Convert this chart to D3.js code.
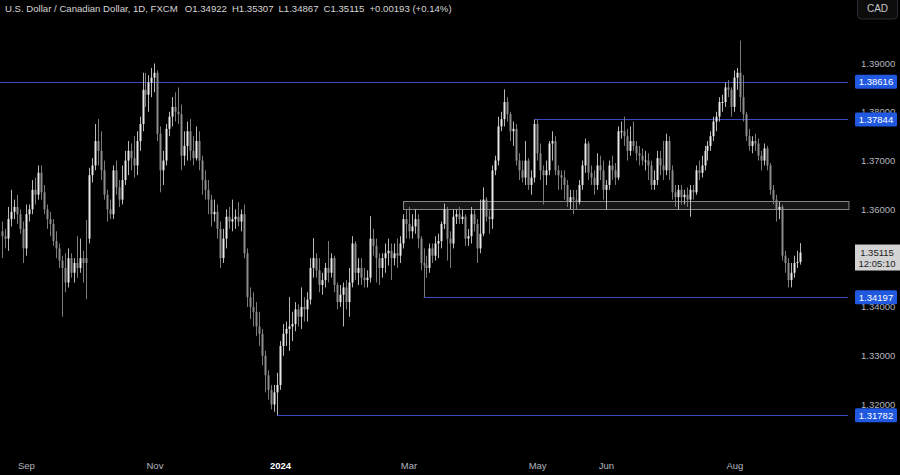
<!DOCTYPE html>
<html><head><meta charset="utf-8">
<script src="https://cdn.jsdelivr.net/npm/d3@7"></script>
<style>html,body{margin:0;padding:0;background:#000;overflow:hidden}</style>
</head><body>
<svg id="c" width="900" height="475"></svg>
<script>
// ---- daily candles [open, high, low, close] grouped by month ----
const aug23 = [
[1.3555,1.3575,1.3500,1.3545],[1.3545,1.3560,1.3520,1.3540],[1.3540,1.3605,1.3515,1.3580],[1.3580,1.3640,1.3565,1.3595],
[1.3595,1.3620,1.3580,1.3605],[1.3605,1.3630,1.3570,1.3590],[1.3590,1.3600,1.3550,1.3560],[1.3560,1.3575,1.3490,1.3520]];
const sep23 = [
[1.3520,1.3610,1.3505,1.3590],[1.3590,1.3610,1.3575,1.3600],[1.3600,1.3660,1.3590,1.3640],[1.3640,1.3665,1.3610,1.3630],
[1.3630,1.3690,1.3620,1.3675],[1.3675,1.3690,1.3620,1.3635],[1.3635,1.3650,1.3590,1.3600],[1.3600,1.3610,1.3560,1.3580],
[1.3580,1.3595,1.3545,1.3570],[1.3570,1.3580,1.3525,1.3535],[1.3535,1.3555,1.3500,1.3520],[1.3520,1.3530,1.3480,1.3495],
[1.3495,1.3505,1.3380,1.3480],[1.3480,1.3510,1.3430,1.3450],[1.3450,1.3520,1.3440,1.3500],[1.3500,1.3510,1.3460,1.3470],
[1.3470,1.3500,1.3450,1.3490],[1.3490,1.3545,1.3460,1.3480],[1.3480,1.3540,1.3470,1.3500],[1.3500,1.3515,1.3450,1.3490],
[1.3500,1.3578,1.3416,1.3490]];
const oct23 = [
[1.3540,1.3685,1.3530,1.3670],[1.3670,1.3705,1.3655,1.3690],[1.3690,1.3775,1.3680,1.3740],[1.3740,1.3785,1.3690,1.3720],
[1.3720,1.3760,1.3660,1.3680],[1.3680,1.3700,1.3620,1.3630],[1.3630,1.3640,1.3575,1.3600],[1.3600,1.3620,1.3580,1.3590],
[1.3590,1.3690,1.3580,1.3680],[1.3680,1.3700,1.3630,1.3645],[1.3645,1.3660,1.3605,1.3620],[1.3620,1.3690,1.3610,1.3660],
[1.3660,1.3720,1.3650,1.3700],[1.3700,1.3740,1.3670,1.3720],[1.3720,1.3735,1.3680,1.3705],[1.3705,1.3750,1.3665,1.3690],
[1.3690,1.3760,1.3670,1.3740],[1.3740,1.3790,1.3720,1.3775],[1.3775,1.3880,1.3760,1.3845],[1.3845,1.3880,1.3810,1.3835],
[1.3835,1.3875,1.3800,1.3860],[1.3860,1.3890,1.3830,1.3870]];
const nov23 = [
[1.3870,1.3899,1.3840,1.3880],[1.3880,1.3885,1.3740,1.3755],[1.3755,1.3770,1.3635,1.3680],[1.3680,1.3720,1.3650,1.3700],
[1.3700,1.3775,1.3690,1.3765],[1.3765,1.3800,1.3750,1.3790],[1.3790,1.3830,1.3770,1.3810],[1.3810,1.3840,1.3780,1.3800],
[1.3800,1.3850,1.3775,1.3795],[1.3795,1.3815,1.3680,1.3710],[1.3710,1.3760,1.3690,1.3730],[1.3730,1.3780,1.3700,1.3760],
[1.3760,1.3785,1.3700,1.3720],[1.3720,1.3750,1.3690,1.3705],[1.3705,1.3770,1.3700,1.3740],[1.3740,1.3760,1.3680,1.3700],
[1.3700,1.3710,1.3630,1.3660],[1.3660,1.3680,1.3620,1.3640],[1.3640,1.3660,1.3590,1.3620],[1.3620,1.3630,1.3565,1.3590],
[1.3590,1.3620,1.3575,1.3595],[1.3595,1.3610,1.3540,1.3560]];
const dec23 = [
[1.3560,1.3575,1.3480,1.3500],[1.3500,1.3560,1.3490,1.3540],[1.3540,1.3600,1.3520,1.3585],[1.3585,1.3605,1.3560,1.3575],
[1.3575,1.3620,1.3555,1.3580],[1.3580,1.3600,1.3560,1.3585],[1.3585,1.3615,1.3565,1.3575],[1.3575,1.3600,1.3555,1.3590],
[1.3590,1.3610,1.3500,1.3510],[1.3510,1.3520,1.3400,1.3420],[1.3420,1.3440,1.3375,1.3400],[1.3400,1.3430,1.3360,1.3390],
[1.3390,1.3410,1.3340,1.3360],[1.3360,1.3390,1.3320,1.3345],[1.3345,1.3355,1.3280,1.3300],[1.3300,1.3310,1.3225,1.3260],
[1.3260,1.3270,1.3210,1.3230],[1.3230,1.3240,1.3190,1.3200],[1.3200,1.3240,1.3185,1.3225],[1.3225,1.3265,1.3178,1.3240]];
const jan24 = [
[1.3240,1.3330,1.3230,1.3320],[1.3320,1.3365,1.3300,1.3345],[1.3345,1.3370,1.3320,1.3355],[1.3355,1.3420,1.3310,1.3360],
[1.3360,1.3390,1.3330,1.3365],[1.3365,1.3410,1.3350,1.3395],[1.3395,1.3405,1.3360,1.3380],[1.3380,1.3440,1.3355,1.3400],
[1.3400,1.3420,1.3370,1.3395],[1.3395,1.3430,1.3370,1.3415],[1.3415,1.3500,1.3405,1.3480],[1.3480,1.3541,1.3460,1.3500],
[1.3500,1.3510,1.3460,1.3475],[1.3475,1.3500,1.3430,1.3445],[1.3445,1.3470,1.3425,1.3455],[1.3455,1.3490,1.3440,1.3480],
[1.3480,1.3535,1.3450,1.3470],[1.3470,1.3510,1.3460,1.3500],[1.3500,1.3505,1.3430,1.3445],[1.3445,1.3450,1.3395,1.3410],
[1.3410,1.3445,1.3400,1.3425],[1.3425,1.3450,1.3360,1.3440]];
const feb24 = [
[1.3440,1.3455,1.3395,1.3410],[1.3410,1.3480,1.3380,1.3450],[1.3450,1.3545,1.3440,1.3530],[1.3530,1.3535,1.3455,1.3470],
[1.3470,1.3500,1.3445,1.3480],[1.3480,1.3500,1.3445,1.3460],[1.3460,1.3480,1.3440,1.3455],[1.3455,1.3475,1.3440,1.3460],
[1.3460,1.3586,1.3450,1.3540],[1.3540,1.3560,1.3505,1.3525],[1.3525,1.3540,1.3450,1.3500],[1.3500,1.3510,1.3445,1.3480],
[1.3480,1.3510,1.3460,1.3500],[1.3500,1.3530,1.3470,1.3510],[1.3510,1.3540,1.3485,1.3515],[1.3515,1.3530,1.3455,1.3500],
[1.3500,1.3530,1.3485,1.3510],[1.3510,1.3540,1.3480,1.3505],[1.3505,1.3545,1.3490,1.3530],[1.3530,1.3590,1.3520,1.3580],
[1.3580,1.3600,1.3540,1.3570]];
const mar24 = [
[1.3570,1.3605,1.3540,1.3555],[1.3555,1.3590,1.3540,1.3565],[1.3565,1.3600,1.3550,1.3580],[1.3580,1.3590,1.3520,1.3540],
[1.3540,1.3545,1.3475,1.3490],[1.3490,1.3520,1.3420,1.3485],[1.3485,1.3505,1.3460,1.3480],[1.3480,1.3530,1.3470,1.3520],
[1.3520,1.3530,1.3490,1.3505],[1.3505,1.3545,1.3495,1.3530],[1.3530,1.3550,1.3500,1.3535],[1.3535,1.3575,1.3520,1.3570],
[1.3570,1.3612,1.3560,1.3600],[1.3600,1.3605,1.3495,1.3540],[1.3540,1.3555,1.3480,1.3530],[1.3530,1.3600,1.3520,1.3585],
[1.3585,1.3600,1.3570,1.3590],[1.3590,1.3605,1.3570,1.3580],[1.3580,1.3600,1.3570,1.3585],[1.3585,1.3590,1.3525,1.3540],
[1.3540,1.3560,1.3525,1.3545]];
const apr24 = [
[1.3545,1.3605,1.3530,1.3590],[1.3590,1.3600,1.3555,1.3570],[1.3570,1.3580,1.3490,1.3520],[1.3520,1.3620,1.3510,1.3550],
[1.3550,1.3645,1.3545,1.3620],[1.3620,1.3625,1.3575,1.3585],[1.3585,1.3600,1.3550,1.3580],[1.3580,1.3690,1.3560,1.3680],
[1.3680,1.3710,1.3670,1.3700],[1.3700,1.3790,1.3690,1.3770],[1.3770,1.3800,1.3760,1.3785],[1.3785,1.3846,1.3770,1.3820],
[1.3820,1.3830,1.3780,1.3795],[1.3795,1.3800,1.3740,1.3760],[1.3760,1.3780,1.3730,1.3765],[1.3765,1.3775,1.3690,1.3700],
[1.3700,1.3715,1.3660,1.3680],[1.3680,1.3700,1.3655,1.3665],[1.3665,1.3740,1.3650,1.3700],[1.3700,1.3705,1.3640,1.3650],
[1.3650,1.3680,1.3630,1.3665],[1.3665,1.3784,1.3655,1.3775]];
const may24 = [
[1.3775,1.3785,1.3700,1.3715],[1.3715,1.3735,1.3660,1.3680],[1.3680,1.3690,1.3610,1.3670],[1.3670,1.3700,1.3650,1.3680],
[1.3680,1.3740,1.3670,1.3735],[1.3735,1.3760,1.3700,1.3740],[1.3740,1.3750,1.3670,1.3680],[1.3680,1.3690,1.3640,1.3670],
[1.3670,1.3680,1.3640,1.3665],[1.3665,1.3680,1.3620,1.3650],[1.3650,1.3660,1.3605,1.3615],[1.3615,1.3640,1.3600,1.3625],
[1.3625,1.3640,1.3590,1.3620],[1.3620,1.3640,1.3600,1.3615],[1.3615,1.3660,1.3610,1.3650],[1.3650,1.3700,1.3640,1.3690],
[1.3690,1.3745,1.3675,1.3735],[1.3735,1.3740,1.3660,1.3675],[1.3675,1.3690,1.3650,1.3665],[1.3665,1.3680,1.3630,1.3650],
[1.3650,1.3715,1.3640,1.3690],[1.3690,1.3710,1.3660,1.3680],[1.3680,1.3700,1.3620,1.3640]];
const jun24 = [
[1.3640,1.3660,1.3600,1.3650],[1.3650,1.3700,1.3640,1.3690],[1.3690,1.3710,1.3660,1.3680],[1.3680,1.3695,1.3650,1.3665],
[1.3665,1.3770,1.3660,1.3760],[1.3760,1.3780,1.3745,1.3760],[1.3760,1.3790,1.3730,1.3750],[1.3750,1.3765,1.3700,1.3720],
[1.3720,1.3770,1.3710,1.3740],[1.3740,1.3780,1.3720,1.3730],[1.3730,1.3740,1.3700,1.3715],[1.3715,1.3730,1.3690,1.3710],
[1.3710,1.3725,1.3690,1.3700],[1.3700,1.3720,1.3680,1.3700],[1.3700,1.3715,1.3660,1.3690],[1.3690,1.3700,1.3640,1.3650],
[1.3650,1.3680,1.3640,1.3660],[1.3660,1.3720,1.3650,1.3705],[1.3705,1.3720,1.3670,1.3690],[1.3690,1.3740,1.3660,1.3680]];
const jul24 = [
[1.3680,1.3755,1.3670,1.3740],[1.3740,1.3750,1.3660,1.3680],[1.3680,1.3690,1.3620,1.3635],[1.3635,1.3650,1.3605,1.3625],
[1.3625,1.3650,1.3600,1.3640],[1.3640,1.3650,1.3610,1.3625],[1.3625,1.3640,1.3610,1.3630],[1.3630,1.3645,1.3605,1.3620],
[1.3620,1.3650,1.3585,1.3640],[1.3640,1.3650,1.3620,1.3635],[1.3635,1.3690,1.3630,1.3680],[1.3680,1.3700,1.3660,1.3675],
[1.3675,1.3710,1.3665,1.3690],[1.3690,1.3730,1.3680,1.3720],[1.3720,1.3740,1.3700,1.3730],[1.3730,1.3760,1.3720,1.3750],
[1.3750,1.3790,1.3740,1.3780],[1.3780,1.3800,1.3760,1.3790],[1.3790,1.3830,1.3780,1.3820],[1.3820,1.3835,1.3800,1.3820],
[1.3820,1.3860,1.3810,1.3850],[1.3850,1.3865,1.3830,1.3845],[1.3845,1.3850,1.3790,1.3810]];
const aug24 = [
[1.3810,1.3885,1.3800,1.3870],[1.3870,1.3890,1.3845,1.3880],[1.3880,1.3946,1.3800,1.3830],[1.3830,1.3875,1.3780,1.3795],
[1.3795,1.3800,1.3740,1.3750],[1.3750,1.3765,1.3720,1.3730],[1.3730,1.3750,1.3715,1.3740],[1.3740,1.3755,1.3720,1.3735],
[1.3735,1.3745,1.3700,1.3710],[1.3710,1.3720,1.3680,1.3700],[1.3700,1.3735,1.3690,1.3725],[1.3725,1.3730,1.3680,1.3690],
[1.3690,1.3695,1.3630,1.3640],[1.3640,1.3650,1.3610,1.3620],[1.3620,1.3630,1.3575,1.3600],[1.3600,1.3615,1.3580,1.3605],
[1.3605,1.3610,1.3495,1.3505],[1.3505,1.3515,1.3470,1.3490],[1.3490,1.3500,1.3440,1.3455],[1.3455,1.3490,1.3440,1.3470],
[1.3470,1.3505,1.3460,1.3490],[1.3490,1.3515,1.3480,1.34922]];
const sep24 = [[1.34922,1.35307,1.34867,1.35115]];

const monthBlocks = [aug23, sep23, oct23, nov23, dec23, jan24, feb24, mar24, apr24, may24, jun24, jul24, aug24, sep24];
const monthLabels = [null, "Sep", null, "Nov", null, "2024", null, "Mar", null, "May", "Jun", null, "Aug", null];
const boldLabels = ["2024"];

// 1.35000 is hidden behind the last-price label in the reference
const priceTicks = [1.39, 1.38, 1.37, 1.36, 1.34, 1.33, 1.32];
// horizontal levels: value, index of the candle where the line starts
const levelValues = [1.38616, 1.37844, 1.34197, 1.31782];
const levelStarts = [0, 178, 141, 92];
// grey zone
const zoneLow = 1.3600, zoneHigh = 1.3617, zoneStart = 134;

const title = "U.S. Dollar / Canadian Dollar, 1D, FXCM";
const countdown = "12:05:10";
const currency = "CAD";

// ---- build ----
const candles = monthBlocks.flat().map((r, i) => ({i, o: r[0], h: r[1], l: r[2], c: r[3]}));
const tickIdx = [], tickTxt = [];
let acc = 0;
monthBlocks.forEach((b, k) => { if (monthLabels[k]) { tickIdx.push(acc); tickTxt.push(monthLabels[k]); } acc += b.length; });

const W = 900, H = 475, plotR = 848;
const FONT = "Liberation Sans, Arial, sans-serif";
const svg = d3.select("#c");
svg.append("rect").attr("width", W).attr("height", H).attr("fill", "#000");

const x = d3.scaleLinear().domain([-0.67, 283]).range([0, plotR]);
const y = d3.scaleLinear().domain([1.39, 1.32]).range([63, 404.5]);
const bw = 2;

// zone
svg.append("rect")
  .attr("x", Math.round(x(zoneStart)) + 0.5).attr("width", plotR - x(zoneStart))
  .attr("y", Math.round(y(zoneHigh)) + 0.5).attr("height", Math.round(y(zoneLow) - y(zoneHigh)))
  .attr("fill", "#161616").attr("stroke", "#858585").attr("stroke-width", 1);

// levels
svg.selectAll("line.lvl").data(levelValues).join("line").attr("class", "lvl")
  .attr("x1", (d, k) => k === 0 ? 0 : x(levelStarts[k])).attr("x2", plotR)
  .attr("y1", d => Math.round(y(d)) + 0.5).attr("y2", d => Math.round(y(d)) + 0.5)
  .attr("stroke", "#3c48c4").attr("stroke-width", 1.2);

// candles
const g = svg.append("g");
g.selectAll("line.wick").data(candles).join("line").attr("class", "wick")
  .attr("x1", d => Math.round(x(d.i)) + 0.5).attr("x2", d => Math.round(x(d.i)) + 0.5)
  .attr("y1", d => y(d.h)).attr("y2", d => y(d.l))
  .attr("stroke", d => d.c >= d.o ? "#b8b8b8" : "#7a7a7a").attr("stroke-width", 1);
g.selectAll("rect.body").data(candles).join("rect").attr("class", "body")
  .attr("x", d => Math.round(x(d.i)) - 0.5).attr("width", bw)
  .attr("y", d => y(Math.max(d.o, d.c)))
  .attr("height", d => Math.max(1, Math.abs(y(d.o) - y(d.c))))
  .attr("fill", d => d.c >= d.o ? "#e8e8e8" : "#8c8c8c");

// price axis
const yAxis = d3.axisRight(y).tickValues(priceTicks).tickSize(0).tickPadding(0).tickFormat(d3.format(".5f"));
const ya = svg.append("g").attr("transform", `translate(861,0)`).call(yAxis);
ya.select(".domain").remove();
ya.selectAll("text").attr("fill", "#b2b5be").attr("font-family", FONT).attr("font-size", 9.5);

// level labels
levelValues.forEach(v => {
  const yy = y(v);
  svg.append("rect").attr("x", 855).attr("y", yy - 7).attr("width", 42).attr("height", 14).attr("rx", 1.5).attr("fill", "#2158e0");
  svg.append("text").attr("x", 876).attr("y", yy + 3.5).attr("text-anchor", "middle")
    .attr("fill", "#fff").attr("font-family", FONT).attr("font-size", 9.5)
    .text(d3.format(".5f")(v));
});

// current price label
const last = candles[candles.length - 1];
const prev = candles[candles.length - 2];
const cy = y(last.c);
svg.append("rect").attr("x", 855).attr("y", cy - 8).attr("width", 45).attr("height", 26).attr("fill", "#d3d3d3");
svg.append("text").attr("x", 877).attr("y", cy + 3).attr("text-anchor", "middle").attr("fill", "#222")
  .attr("font-family", FONT).attr("font-size", 9.5).text(d3.format(".5f")(last.c));
svg.append("text").attr("x", 877).attr("y", cy + 14).attr("text-anchor", "middle").attr("fill", "#222")
  .attr("font-family", FONT).attr("font-size", 9.5).text(countdown);

// time axis
const xAxis = d3.axisBottom(x).tickValues(tickIdx).tickSize(0).tickPadding(0).tickFormat((d, k) => tickTxt[k]);
const xa = svg.append("g").attr("transform", "translate(0,462)").call(xAxis);
xa.select(".domain").remove();
xa.selectAll("text").attr("font-family", FONT).attr("font-size", 9.5)
  .attr("fill", (d, k) => boldLabels.includes(tickTxt[k]) ? "#ffffff" : "#b2b5be")
  .attr("font-weight", (d, k) => boldLabels.includes(tickTxt[k]) ? "bold" : "normal");

// currency button
svg.append("rect").attr("x", 857.5).attr("y", -4).attr("width", 40).attr("height", 23).attr("rx", 4)
  .attr("fill", "#0c0c0c").attr("stroke", "#2a2d35");
svg.append("text").attr("x", 877.5).attr("y", 12).attr("text-anchor", "middle").attr("fill", "#c8c8c8")
  .attr("font-family", FONT).attr("font-size", 10).text(currency);

// header
const f5 = d3.format(".5f");
const chg = last.c - prev.c;
const hdr = svg.append("text").attr("x", 5).attr("y", 12).attr("fill", "#d6d6d6")
  .attr("font-family", FONT).attr("font-size", 9.6);
hdr.append("tspan").text(title);
hdr.append("tspan").attr("dx", 7).text("O" + f5(last.o));
hdr.append("tspan").attr("dx", 5).text("H" + f5(last.h));
hdr.append("tspan").attr("dx", 5).text("L" + f5(last.l));
hdr.append("tspan").attr("dx", 5).text("C" + f5(last.c));
hdr.append("tspan").attr("dx", 5).text((chg >= 0 ? "+" : "") + f5(chg) + " (" + (chg >= 0 ? "+" : "") + d3.format(".2f")(chg / prev.c * 100) + "%)");
</script>
</body></html>
